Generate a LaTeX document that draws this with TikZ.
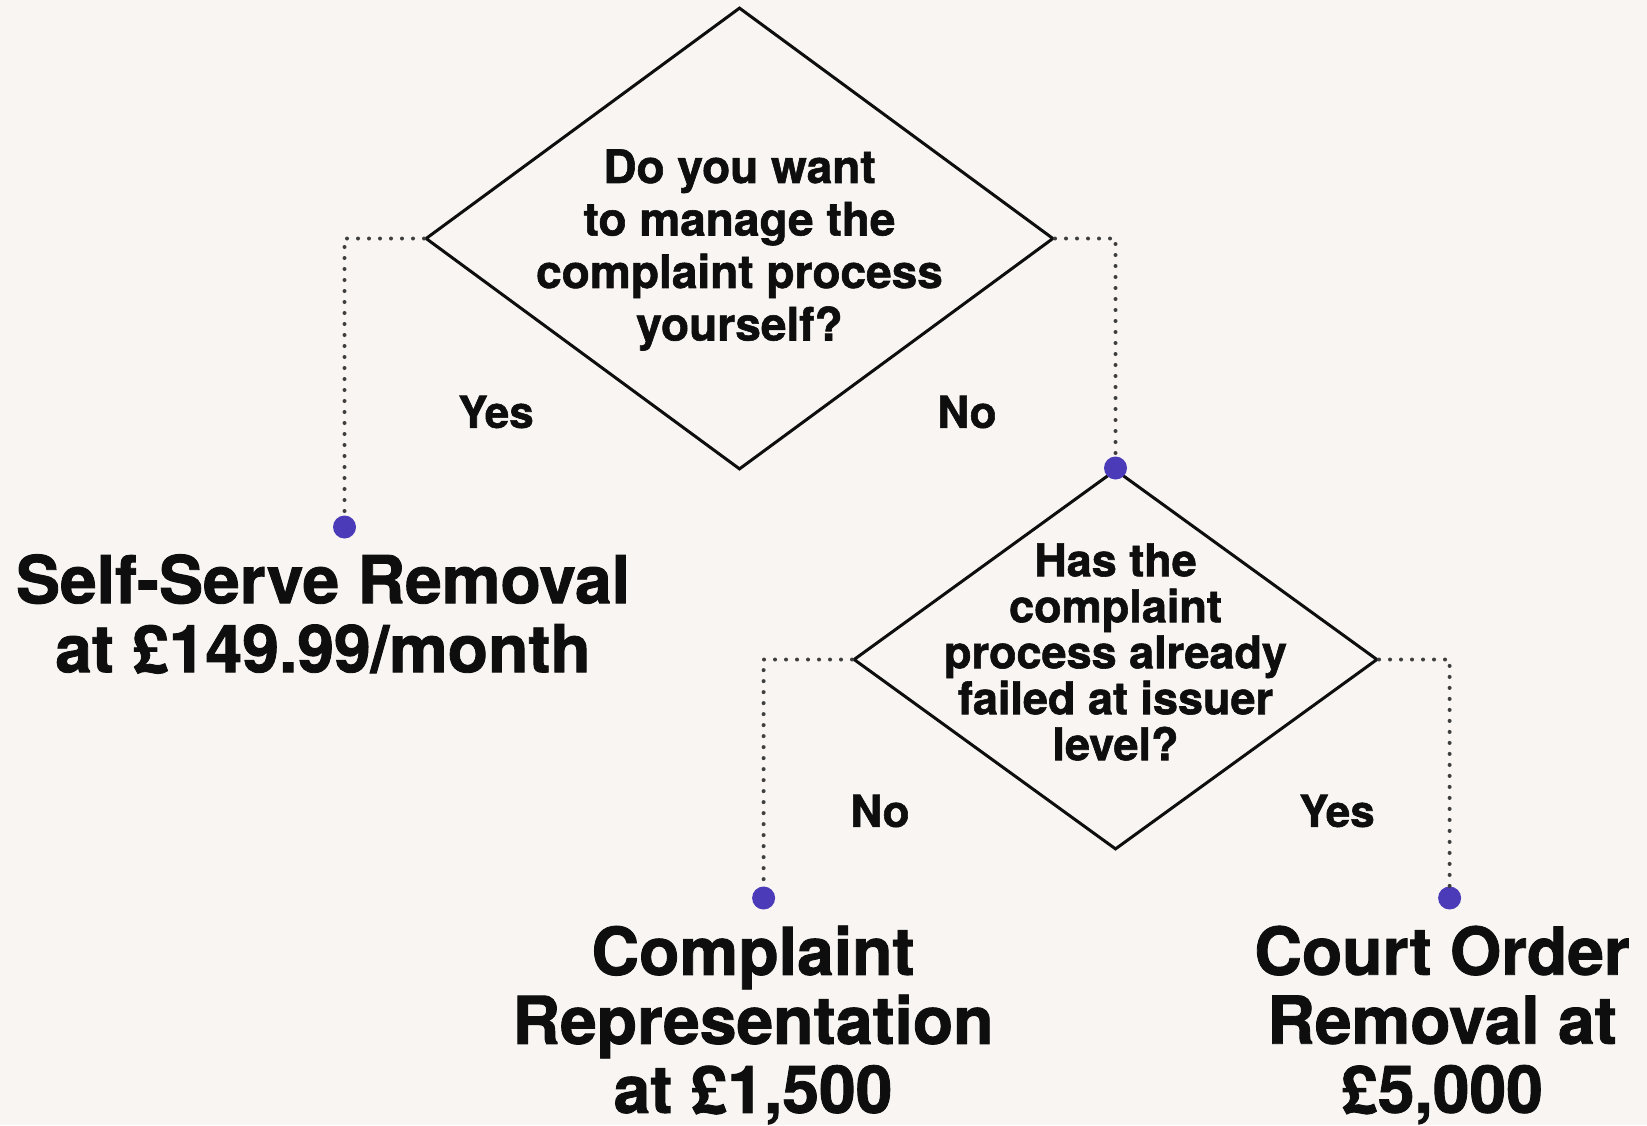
\documentclass[tikz,border=0pt]{standalone}
\usepackage{fontspec}
\setmainfont{TeX Gyre Heros}[BoldFeatures={FakeBold=1.3}]
\usetikzlibrary{shapes.geometric}
\definecolor{paper}{HTML}{F8F5F2}
\definecolor{pin}{HTML}{4B3BB8}
\definecolor{ink}{HTML}{0E0E0E}
\begin{document}
\begin{tikzpicture}[x=0.5pt,y=-0.5pt,
  decision/.style={diamond, draw=ink, line width=1.5pt, inner sep=0pt},
  question/.style={text=ink, align=center, font=\bfseries\fontsize{23}{26.25}\selectfont},
  answer/.style={text=ink, font=\bfseries\fontsize{22}{26}\selectfont},
  outcome/.style={text=ink, align=center, font=\bfseries\fontsize{33}{34.5}\selectfont},
  pindot/.style={circle, fill=pin, inner sep=0pt, minimum size=11.5pt},
  link/.style={draw=ink!80, line width=2pt, dash pattern=on 0pt off 5.5pt, line cap=round}]

  % page
  \fill[paper] (0,0) rectangle (1647,1125);
  \useasboundingbox (0,0) rectangle (1647,1125);

  % first decision
  \node[decision, minimum width=314pt, minimum height=231pt] (q1) at (739.5,238.5) {};
  \node[question] (q1text) at (739.5,250)
    {Do you want\\to manage the\\complaint process\\yourself?};

  % second decision
  \node[decision, minimum width=262pt, minimum height=190pt] (q2) at (1115.5,659.5) {};
  \node[question, font=\bfseries\fontsize{22.5}{23}\selectfont] (q2text) at (1115.5,652)
    {Has the\\complaint\\process already\\failed at issuer\\level?};

  % end points of the branches
  \node[pindot] (pA) at (344.5,527) {};
  \node[pindot] (pB) at (q2.north) {};
  \node[pindot] (pC) at (763.6,898) {};
  \node[pindot] (pD) at (1449.6,898) {};

  % branches
  \draw[link] (q1.west) -| (pA);
  \draw[link] (q1.east) -| (pB);
  \draw[link] (q2.west) -| (pC);
  \draw[link] (q2.east) -| (pD);

  % branch labels
  \node[answer] (yes1) at (496,412) {Yes};
  \node[answer] (no1) at (967,412) {No};
  \node[answer] (no2) at (880,811) {No};
  \node[answer] (yes2) at (1337,811) {Yes};

  % outcomes
  \node[outcome] (selfserve) at (323,614)
    {Self-Serve Removal\\at £149.99/month};
  \node[outcome] (representation) at (753,1025)
    {Complaint\\Representation\\at £1,500};
  \node[outcome] (courtorder) at (1442,1025)
    {Court Order\\Removal at\\£5,000};
\end{tikzpicture}
\end{document}
